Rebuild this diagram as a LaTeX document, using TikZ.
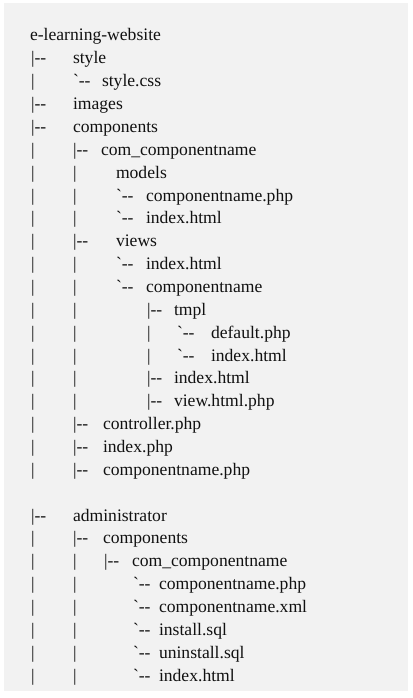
\documentclass[tikz,border=0pt]{standalone}
\usepackage{fontspec}
% TeX ligatures off, so "--" and "`" print as typed
\setmainfont{Liberation Serif}[Ligatures=TeXOff]
\definecolor{panel}{HTML}{F2F2F2}
\definecolor{ink}{HTML}{111111}
\tikzset{
  txt/.style={anchor=base west, inner sep=0pt, outer sep=0pt, text=ink,
              font=\fontsize{13.2}{16}\selectfont},
}
% one piece of a tree row: row number, left edge (px), text, node name
\newcommand\piece[4]{\node[txt] (#4) at (#2,{41+22.86*#1}) {#3};}
\begin{document}
\begin{tikzpicture}[x=0.75pt,y=-0.75pt]
\useasboundingbox (0,0) rectangle (412,698);
\fill[panel] (4,3) rectangle (407.5,691);

\piece{0}{30}{e-learning-website}{root}

\piece{1}{31}{|--}{r1a}   \piece{1}{73}{style}{style}
\piece{2}{31}{|}{r2a}     \piece{2}{73}{`--}{r2b}  \piece{2}{102}{style.css}{stylecss}
\piece{3}{31}{|--}{r3a}   \piece{3}{73}{images}{images}
\piece{4}{31}{|--}{r4a}   \piece{4}{73}{components}{components}
\piece{5}{31}{|}{r5a}     \piece{5}{73}{|--}{r5b}  \piece{5}{101}{com\_componentname}{com}
\piece{6}{31}{|}{r6a}     \piece{6}{73}{|}{r6b}    \piece{6}{116}{models}{models}
\piece{7}{31}{|}{r7a}     \piece{7}{73}{|}{r7b}    \piece{7}{116}{`--}{r7c}  \piece{7}{146}{componentname.php}{mphp}
\piece{8}{31}{|}{r8a}     \piece{8}{73}{|}{r8b}    \piece{8}{116}{`--}{r8c}  \piece{8}{146}{index.html}{mindex}
\piece{9}{31}{|}{r9a}     \piece{9}{73}{|--}{r9b}  \piece{9}{116}{views}{views}
\piece{10}{31}{|}{r10a}   \piece{10}{73}{|}{r10b}  \piece{10}{116}{`--}{r10c} \piece{10}{146}{index.html}{vindex}
\piece{11}{31}{|}{r11a}   \piece{11}{73}{|}{r11b}  \piece{11}{116}{`--}{r11c} \piece{11}{146}{componentname}{vname}
\piece{12}{31}{|}{r12a}   \piece{12}{73}{|}{r12b}  \piece{12}{147}{|--}{r12c} \piece{12}{174}{tmpl}{tmpl}
\piece{13}{31}{|}{r13a}   \piece{13}{73}{|}{r13b}  \piece{13}{147}{|}{r13c}   \piece{13}{177}{`--}{r13d} \piece{13}{211}{default.php}{tdefault}
\piece{14}{31}{|}{r14a}   \piece{14}{73}{|}{r14b}  \piece{14}{147}{|}{r14c}   \piece{14}{177}{`--}{r14d} \piece{14}{211}{index.html}{tindex}
\piece{15}{31}{|}{r15a}   \piece{15}{73}{|}{r15b}  \piece{15}{147}{|--}{r15c} \piece{15}{174}{index.html}{vnindex}
\piece{16}{31}{|}{r16a}   \piece{16}{73}{|}{r16b}  \piece{16}{147}{|--}{r16c} \piece{16}{174}{view.html.php}{viewphp}
\piece{17}{31}{|}{r17a}   \piece{17}{73}{|--}{r17b} \piece{17}{103}{controller.php}{controller}
\piece{18}{31}{|}{r18a}   \piece{18}{73}{|--}{r18b} \piece{18}{103}{index.php}{indexphp}
\piece{19}{31}{|}{r19a}   \piece{19}{73}{|--}{r19b} \piece{19}{103}{componentname.php}{cphp}

\piece{21}{31}{|--}{r21a} \piece{21}{73}{administrator}{admin}
\piece{22}{31}{|}{r22a}   \piece{22}{73}{|--}{r22b} \piece{22}{103}{components}{acomponents}
\piece{23}{31}{|}{r23a}   \piece{23}{73}{|}{r23b}   \piece{23}{104}{|--}{r23c} \piece{23}{132}{com\_componentname}{acom}
\piece{24}{31}{|}{r24a}   \piece{24}{73}{|}{r24b}   \piece{24}{133}{`--}{r24c} \piece{24}{159}{componentname.php}{aphp}
\piece{25}{31}{|}{r25a}   \piece{25}{73}{|}{r25b}   \piece{25}{133}{`--}{r25c} \piece{25}{159}{componentname.xml}{axml}
\piece{26}{31}{|}{r26a}   \piece{26}{73}{|}{r26b}   \piece{26}{133}{`--}{r26c} \piece{26}{159}{install.sql}{ainstall}
\piece{27}{31}{|}{r27a}   \piece{27}{73}{|}{r27b}   \piece{27}{133}{`--}{r27c} \piece{27}{159}{uninstall.sql}{auninstall}
\piece{28}{31}{|}{r28a}   \piece{28}{73}{|}{r28b}   \piece{28}{133}{`--}{r28c} \piece{28}{159}{index.html}{aindex}
\end{tikzpicture}
\end{document}
